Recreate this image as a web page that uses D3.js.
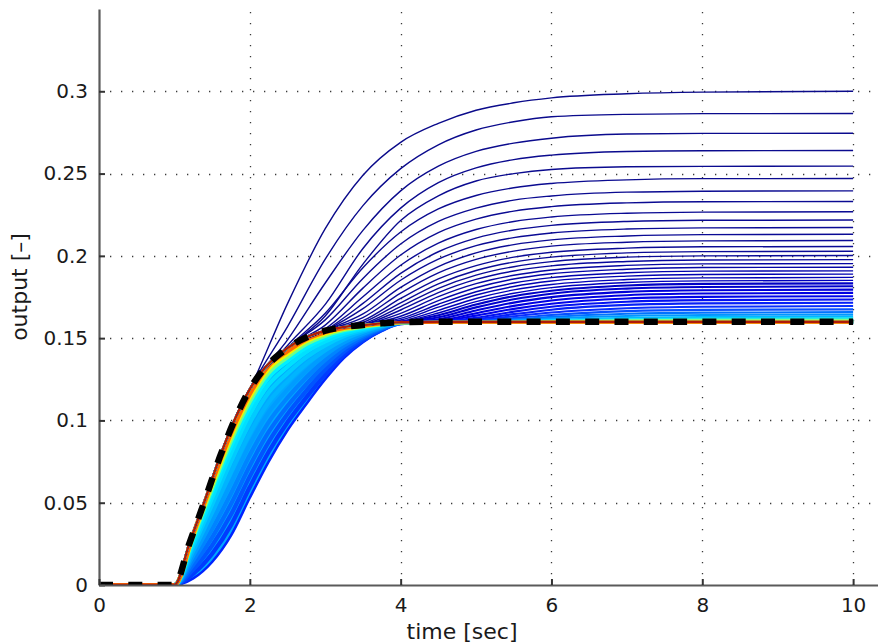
<!DOCTYPE html>
<html><head><meta charset="utf-8">
<script src="https://cdn.jsdelivr.net/npm/d3@7"></script>
<style>
html,body{margin:0;padding:0;background:#fff;}
svg{display:block;}
text{font-family:"DejaVu Sans",sans-serif;fill:#1a1a1a;}
</style></head><body>
<svg id="chart" width="878" height="644"></svg>
<script>
// ---------- data ----------
const xTickValues = [0, 2, 4, 6, 8, 10];
const xTickLabels = ["0", "2", "4", "6", "8", "10"];
const yTickValues = [0, 0.05, 0.1, 0.15, 0.2, 0.25, 0.3];
const yTickLabels = ["0", "0.05", "0.1", "0.15", "0.2", "0.25", "0.3"];

// reference response (red line + black dashed line)
const refTime   = [0, 1, 1.2, 1.4, 1.6, 1.8, 2, 2.2, 2.4, 2.6, 2.8, 3, 3.25, 3.5, 3.75, 4, 4.5, 5, 10];
const refOutput = [0, 0, 0.0255, 0.051, 0.0775, 0.1005, 0.119, 0.132, 0.1405, 0.147, 0.1515, 0.1545, 0.1568, 0.158, 0.159, 0.1597, 0.16, 0.16, 0.16];

// upper family (overshooting final values); samples at upperTime, preceded by the shared start of the reference (t < 2)
const upperTime = [2, 2.5, 3, 3.5, 4, 4.5, 5, 5.5, 6, 7, 8, 10];
const upperCurves = [
  [0.119, 0.171, 0.2165, 0.249, 0.269, 0.2805, 0.2885, 0.293, 0.296, 0.2985, 0.2995, 0.300],
  [0.119, 0.157, 0.198, 0.2305, 0.253, 0.2675, 0.2765, 0.2815, 0.2845, 0.286, 0.2864, 0.2865],
  [0.119, 0.149, 0.1835, 0.2155, 0.2395, 0.2545, 0.2635, 0.2685, 0.2715, 0.274, 0.2744, 0.2745],
  [0.119, 0.1455, 0.1705, 0.2045, 0.229, 0.2445, 0.2535, 0.2585, 0.2612, 0.2634, 0.2639, 0.264],
  [0.119, 0.1437, 0.1635, 0.195, 0.2215, 0.2365, 0.2455, 0.250, 0.2525, 0.2541, 0.2544, 0.2545],
  [0.119, 0.144, 0.1651, 0.1928, 0.2145, 0.2285, 0.2367, 0.2414, 0.244, 0.2462, 0.2469, 0.247],
  [0.119, 0.144, 0.1611, 0.1863, 0.2072, 0.2209, 0.229, 0.2339, 0.2364, 0.2387, 0.2393, 0.2395],
  [0.119, 0.144, 0.1579, 0.1804, 0.2005, 0.2141, 0.2223, 0.2272, 0.2299, 0.2322, 0.2329, 0.233],
  [0.119, 0.144, 0.1557, 0.1751, 0.1943, 0.2077, 0.216, 0.2209, 0.2236, 0.2259, 0.2266, 0.2268],
  [0.119, 0.144, 0.1547, 0.1711, 0.1894, 0.2025, 0.2108, 0.2157, 0.2185, 0.2209, 0.2216, 0.2218],
  [0.119, 0.144, 0.1545, 0.1679, 0.1852, 0.198, 0.2062, 0.2111, 0.2139, 0.2163, 0.217, 0.2172],
  [0.119, 0.144, 0.1545, 0.1647, 0.1808, 0.1935, 0.2018, 0.2068, 0.2097, 0.2121, 0.2129, 0.2131],
  [0.119, 0.144, 0.1545, 0.1625, 0.1774, 0.1897, 0.1979, 0.2029, 0.2059, 0.2083, 0.2091, 0.2093],
  [0.119, 0.144, 0.1545, 0.1606, 0.1741, 0.186, 0.1941, 0.1992, 0.2022, 0.2047, 0.2055, 0.2057],
  [0.119, 0.144, 0.1545, 0.1595, 0.1715, 0.183, 0.1911, 0.1962, 0.1992, 0.2018, 0.2026, 0.2028],
  [0.119, 0.144, 0.1545, 0.1586, 0.1692, 0.1803, 0.1883, 0.1934, 0.1965, 0.1992, 0.2, 0.2002],
  [0.119, 0.144, 0.1545, 0.158, 0.1671, 0.1777, 0.1857, 0.1908, 0.1939, 0.1966, 0.1975, 0.1977],
  [0.119, 0.144, 0.1545, 0.158, 0.1651, 0.1752, 0.1831, 0.1882, 0.1914, 0.1942, 0.1951, 0.1953],
  [0.119, 0.144, 0.1545, 0.158, 0.1633, 0.1728, 0.1806, 0.1859, 0.1891, 0.1919, 0.1929, 0.1931],
  [0.119, 0.144, 0.1545, 0.158, 0.162, 0.1706, 0.1782, 0.1835, 0.1868, 0.1897, 0.1907, 0.1909],
  [0.119, 0.144, 0.1545, 0.158, 0.161, 0.1688, 0.1762, 0.1814, 0.1847, 0.1877, 0.1887, 0.1889],
  [0.119, 0.144, 0.1545, 0.158, 0.1602, 0.1669, 0.1741, 0.1793, 0.1826, 0.1856, 0.1866, 0.1869],
  [0.119, 0.144, 0.1545, 0.158, 0.1598, 0.1653, 0.1722, 0.1773, 0.1807, 0.1838, 0.1848, 0.1851],
  [0.119, 0.144, 0.1545, 0.158, 0.1597, 0.1639, 0.1704, 0.1755, 0.1788, 0.182, 0.183, 0.1833],
  [0.119, 0.144, 0.1545, 0.158, 0.1597, 0.1627, 0.1687, 0.1736, 0.177, 0.1801, 0.1811, 0.1815],
  [0.119, 0.144, 0.1545, 0.158, 0.1597, 0.1615, 0.1668, 0.1716, 0.1749, 0.1781, 0.1791, 0.1795],
  [0.119, 0.144, 0.1545, 0.158, 0.1597, 0.1607, 0.1651, 0.1696, 0.1729, 0.1761, 0.1771, 0.1775],
  [0.119, 0.144, 0.1545, 0.158, 0.1597, 0.1602, 0.1637, 0.1678, 0.1709, 0.1741, 0.1751, 0.1755],
  [0.119, 0.144, 0.1545, 0.158, 0.1597, 0.16, 0.1624, 0.1661, 0.1691, 0.1721, 0.1731, 0.1735],
  [0.119, 0.144, 0.1545, 0.158, 0.1597, 0.16, 0.1615, 0.1646, 0.1673, 0.1702, 0.1711, 0.1715],
  [0.119, 0.144, 0.1545, 0.158, 0.1597, 0.16, 0.1608, 0.1633, 0.1656, 0.1682, 0.1691, 0.1695],
  [0.119, 0.144, 0.1545, 0.158, 0.1597, 0.16, 0.1603, 0.1622, 0.1641, 0.1664, 0.1672, 0.1675],
  [0.119, 0.144, 0.1545, 0.158, 0.1597, 0.16, 0.1601, 0.1614, 0.1629, 0.1648, 0.1655, 0.1658],
  [0.119, 0.144, 0.1545, 0.158, 0.1597, 0.16, 0.16, 0.1608, 0.162, 0.1635, 0.1641, 0.1643],
  [0.119, 0.144, 0.1545, 0.158, 0.1597, 0.16, 0.16, 0.1604, 0.1612, 0.1624, 0.1628, 0.163],
  [0.119, 0.144, 0.1545, 0.158, 0.1597, 0.16, 0.16, 0.1602, 0.1607, 0.1615, 0.1619, 0.162],
  [0.119, 0.144, 0.1545, 0.158, 0.1597, 0.16, 0.16, 0.16, 0.1604, 0.1609, 0.1611, 0.1612],
  [0.119, 0.144, 0.1545, 0.158, 0.1597, 0.16, 0.16, 0.16, 0.1602, 0.1605, 0.1606, 0.1606]
];

// lower family (slower responses, from closest to the reference to the slowest)
const lowerTime = [0, 1, 1.25, 1.5, 1.75, 2, 2.25, 2.5, 2.75, 3, 3.25, 3.5, 3.75, 4, 4.5, 10];
const lowerCurves = [
  [0, 0, 0.0312, 0.0625, 0.0921, 0.116, 0.1332, 0.142, 0.1493, 0.1536, 0.1562, 0.1577, 0.1589, 0.1597, 0.16, 0.16],
  [0, 0, 0.0303, 0.061, 0.0902, 0.1141, 0.1314, 0.1405, 0.1481, 0.1527, 0.1557, 0.1574, 0.1587, 0.1597, 0.16, 0.16],
  [0, 0, 0.0292, 0.059, 0.0876, 0.1115, 0.129, 0.1385, 0.1465, 0.1515, 0.1549, 0.1569, 0.1585, 0.1596, 0.16, 0.16],
  [0, 0, 0.0278, 0.0565, 0.0844, 0.1082, 0.126, 0.1361, 0.1444, 0.1501, 0.154, 0.1564, 0.1583, 0.1596, 0.16, 0.16],
  [0, 0, 0.0258, 0.053, 0.0799, 0.1037, 0.1218, 0.1326, 0.1416, 0.148, 0.1527, 0.1557, 0.158, 0.1595, 0.16, 0.16],
  [0, 0, 0.0236, 0.049, 0.0748, 0.0985, 0.117, 0.1286, 0.1383, 0.1456, 0.1512, 0.1548, 0.1576, 0.1595, 0.16, 0.16],
  [0, 0, 0.0208, 0.044, 0.0684, 0.092, 0.111, 0.1237, 0.1343, 0.1427, 0.1493, 0.1538, 0.1572, 0.1594, 0.16, 0.16],
  [0, 0, 0.018, 0.039, 0.062, 0.0855, 0.105, 0.1187, 0.1302, 0.1397, 0.1474, 0.1527, 0.1567, 0.1593, 0.16, 0.16],
  [0, 0, 0.0152, 0.034, 0.0556, 0.079, 0.099, 0.1138, 0.1262, 0.1368, 0.1455, 0.1517, 0.1563, 0.1593, 0.16, 0.16],
  [0, 0, 0.0124, 0.029, 0.0492, 0.0725, 0.093, 0.1088, 0.1221, 0.1338, 0.1436, 0.1506, 0.1558, 0.1592, 0.16, 0.16],
  [0, 0, 0.0096, 0.024, 0.0428, 0.066, 0.087, 0.1039, 0.1181, 0.1309, 0.1418, 0.1496, 0.1554, 0.1591, 0.16, 0.16],
  [0, 0, 0.0068, 0.019, 0.0364, 0.0595, 0.081, 0.0989, 0.114, 0.1279, 0.1399, 0.1485, 0.1549, 0.1591, 0.16, 0.16],
  [0, 0, 0.004, 0.014, 0.030, 0.053, 0.075, 0.094, 0.110, 0.125, 0.138, 0.1475, 0.1545, 0.159, 0.16, 0.16]
];

// ---------- styles ----------
const lowerColors = ["#ff6a00", "#f2f000", "#6cff8c", "#00f0ff", "#00e0ff", "#00cbff", "#00b4ff", "#009cff", "#0084ff", "#006cff", "#0054ff", "#003cff", "#0024ff"];
const upperColor = d3.scaleLinear()
  .domain([0.300, 0.200, 0.186, 0.176, 0.169, 0.1655, 0.163, 0.1618, 0.1608])
  .range(["#0a0a8a", "#0a0a96", "#0000b8", "#0000e8", "#0a32ff", "#0078ff", "#00baff", "#18ecee", "#b4ff50"])
  .clamp(true);

// ---------- layout ----------
const W = 878, H = 644;
const svg = d3.select("#chart");
const x = d3.scaleLinear().domain([0, 10.33]).range([99, 878]);
const y = d3.scaleLinear().domain([0, 0.35]).range([585, 9]);

svg.append("rect").attr("width", W).attr("height", H).attr("fill", "#fff");

svg.append("defs").append("clipPath").attr("id", "plot")
  .append("rect").attr("x", 99).attr("y", 0).attr("width", 779).attr("height", 585);

// grid
const grid = svg.append("g").attr("stroke", "#3a3a3a").attr("stroke-width", 1.3)
  .attr("stroke-dasharray", "1.3,9.7").attr("fill", "none");
grid.selectAll("line.h").data(yTickValues.filter(v => v > 0)).join("line")
  .attr("x1", x(0)).attr("x2", 878).attr("y1", d => Math.round(y(d)) + 0.5).attr("y2", d => Math.round(y(d)) + 0.5);
grid.selectAll("line.v").data(xTickValues.filter(v => v > 0)).join("line")
  .attr("y1", y(0.35) + 3).attr("y2", y(0)).attr("x1", d => Math.round(x(d)) + 0.5).attr("x2", d => Math.round(x(d)) + 0.5);

const plot = svg.append("g").attr("clip-path", "url(#plot)");
const line = d3.line().curve(d3.curveMonotoneX);

// lower band fill
const band = d3.area().curve(d3.curveMonotoneX)
  .x((d, i) => x(lowerTime[i]))
  .y0((d, i) => y(lowerCurves[lowerCurves.length - 1][i]))
  .y1((d, i) => y(lowerCurves[0][i]));
plot.append("path").datum(lowerTime).attr("d", band).attr("fill", "#00a8ff");

// lower curves, slowest first
for (let k = lowerCurves.length - 1; k >= 0; k--) {
  const pts = lowerTime.map((t, i) => [x(t), y(lowerCurves[k][i])]);
  plot.append("path").attr("d", line(pts)).attr("fill", "none")
    .attr("stroke", lowerColors[k]).attr("stroke-width", k === lowerCurves.length - 1 ? 2.5 : 4.2)
    .attr("stroke-linejoin", "round");
}

// upper curves
const prefixIdx = refTime.map((t, i) => i).filter(i => refTime[i] < upperTime[0]);
upperCurves.forEach(vals => {
  const fin = vals[vals.length - 1];
  const pts = prefixIdx.map(i => [x(refTime[i]), y(refOutput[i])])
    .concat(upperTime.map((t, i) => [x(t), y(vals[i])]));
  plot.append("path").attr("d", line(pts)).attr("fill", "none")
    .attr("stroke", upperColor(fin)).attr("stroke-width", fin < 0.185 ? 2.1 : 1.4);
});

// reference: red line and black dashed line
const refPts = refTime.map((t, i) => [x(t), y(refOutput[i])]);
plot.append("path").attr("d", line(refPts)).attr("fill", "none")
  .attr("stroke", "#b01a08").attr("stroke-width", 2.4);
plot.append("path").attr("d", line(refPts)).attr("fill", "none")
  .attr("stroke", "#000").attr("stroke-width", 6.5).attr("stroke-dasharray", "14,15.3");

// axes
const yAxis = d3.axisLeft(y).tickValues(yTickValues)
  .tickFormat((d, i) => yTickLabels[i]).tickSize(-6).tickSizeOuter(0).tickPadding(11);
const xAxis = d3.axisBottom(x).tickValues(xTickValues)
  .tickFormat((d, i) => xTickLabels[i]).tickSize(-6).tickSizeOuter(0).tickPadding(13);

const gy = svg.append("g").attr("transform", "translate(99,0)").call(yAxis);
const gx = svg.append("g").attr("transform", "translate(0,585)").call(xAxis);
[gx, gy].forEach(g => {
  g.select(".domain").attr("stroke", "#5a5a5a").attr("stroke-width", 2.2);
  g.selectAll(".tick line").attr("stroke", "#333").attr("stroke-width", 2);
  g.selectAll(".tick text").attr("font-size", 20).attr("font-family", "DejaVu Sans, sans-serif").attr("fill", "#1a1a1a");
});

// axis titles
svg.append("text").attr("x", 462).attr("y", 639).attr("text-anchor", "middle")
  .attr("font-size", 22).text("time [sec]");
svg.append("text").attr("transform", "translate(27,287) rotate(-90)").attr("text-anchor", "middle")
  .attr("font-size", 22).text("output [–]");
</script>
</body></html>
